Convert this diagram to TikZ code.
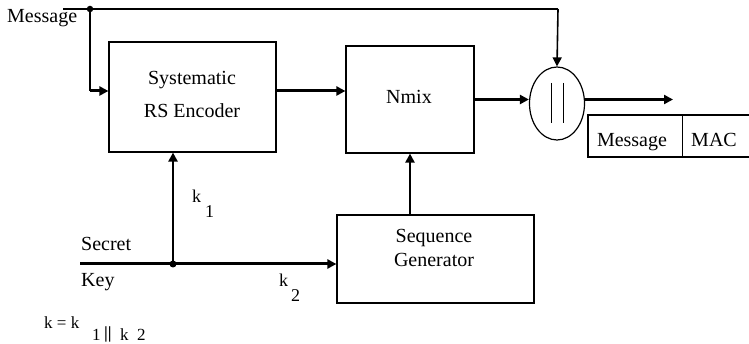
\documentclass[tikz,border=0pt]{standalone}
\usepackage{fontspec}
\setmainfont{Liberation Serif}
\usetikzlibrary{arrows.meta,shapes.geometric}
\begin{document}
\begin{tikzpicture}[x=1pt,y=-1pt,
  blk/.style={draw,line width=1.2pt,inner sep=0pt},
  txt/.style={inner sep=0pt,font=\fontsize{20}{24}\selectfont},
  ktxt/.style={inner sep=0pt,font=\fontsize{18}{20}\selectfont,anchor=base west},
  ftxt/.style={inner sep=0pt,font=\fontsize{17}{18}\selectfont,anchor=base west},
  tip/.style={-{Triangle[length=9pt,width=9pt]}},
  junction/.style={circle,fill,inner sep=0pt,minimum size=7pt}]
\useasboundingbox (0,0) rectangle (749,344);

% processing blocks
\node[blk,minimum width=167,minimum height=110] (enc)  at (192.5,97)  {};
\node[blk,minimum width=128,minimum height=107] (nmix) at (410,99.5)  {};
\node[blk,minimum width=197,minimum height=88]  (seq)  at (435.5,259) {};
\node[blk,ellipse,minimum width=55,minimum height=73] (cat) at (557,103.5) {};

% block captions
\node[txt,anchor=base] (encA) at (192,85)  {Systematic};
\node[txt,anchor=base] (encB) at (192,118) {RS Encoder};
\node[txt,anchor=base] (nmixT) at (409,104) {Nmix};
\node[txt,anchor=base] (seqA) at (434,243) {Sequence};
\node[txt,anchor=base] (seqB) at (434,267) {Generator};

% concatenation bars
\coordinate (barAt) at (551,83);
\coordinate (barAb) at (551,123);
\coordinate (barBt) at (563,83);
\coordinate (barBb) at (563,123);
\draw[line width=0.9pt] (barAt) -- (barAb) (barBt) -- (barBb);

% output record
\node[inner sep=0pt,minimum width=94,minimum height=42] (msg) at (635,136) {};
\node[inner sep=0pt,minimum width=70,minimum height=42] (mac) at (717,136) {};
\node[txt,anchor=base] (msgT) at (632,147) {Message};
\node[txt,anchor=base] (macT) at (714,147) {MAC};
\draw[line width=2pt] (mac.north east) -- (msg.north west) -- (msg.south west) -- (mac.south east);
\draw[line width=1pt] (msg.north east) -- (msg.south east);

% message input
\node[txt,anchor=base west] (msgIn) at (7,23) {Message};
\coordinate (mStart) at (63,9);
\node[junction,minimum size=6.5pt] (mDot) at (90,9) {};
\coordinate (mCorner) at (558,9);
\coordinate (mDown) at (90,91);
\draw[line width=1.3pt] (mStart) -- (mCorner);
\draw[line width=1.6pt,tip] (mCorner) -- (cat.north);
\draw[line width=1.5pt] (mDot.center) -- (mDown);
\draw[line width=3pt,tip] (mDown) -- (enc.west |- mDown);

% data path
\coordinate (midY) at (0,99.5);
\draw[line width=3pt,tip] (enc.east |- {0,91}) -- (nmix.west |- {0,91});
\draw[line width=3pt,tip] (nmix.east |- midY) -- (cat.west |- midY);
\coordinate (outEnd) at (673,99.5);
\draw[line width=2.6pt,tip] (cat.east |- midY) -- (outEnd);
\draw[line width=2.2pt,tip] (seq.north -| {410,0}) -- (nmix.south -| {410,0});

% key input
\coordinate (kStart) at (80,264);
\node[junction] (kDot) at (173,264) {};
\draw[line width=3pt,tip] (kStart) -- (seq.west |- kStart);
\draw[line width=2.5pt,tip] (kDot.center) -- (enc.south -| kDot);
\node[txt,anchor=base west] (secretT) at (81,251) {Secret};
\node[txt,anchor=base west] (keyT) at (81,287) {Key};

% key labels
\node[ktxt] (k1a) at (192,203) {k};
\node[ktxt] (k1b) at (205,218) {1};
\node[ktxt] (k2a) at (279,287) {k};
\node[ktxt] (k2b) at (291,302) {2};

% key composition
\node[ftxt] (fA) at (44,329) {k = k};
\node[ftxt] (fB) at (92,341) {1};
\node[ftxt,font=\bfseries\fontsize{17}{18}\selectfont] (fC) at (104,338) {||};
\node[ftxt] (fD) at (120,340) {k};
\node[ftxt] (fE) at (137,341) {2};
\end{tikzpicture}
\end{document}
